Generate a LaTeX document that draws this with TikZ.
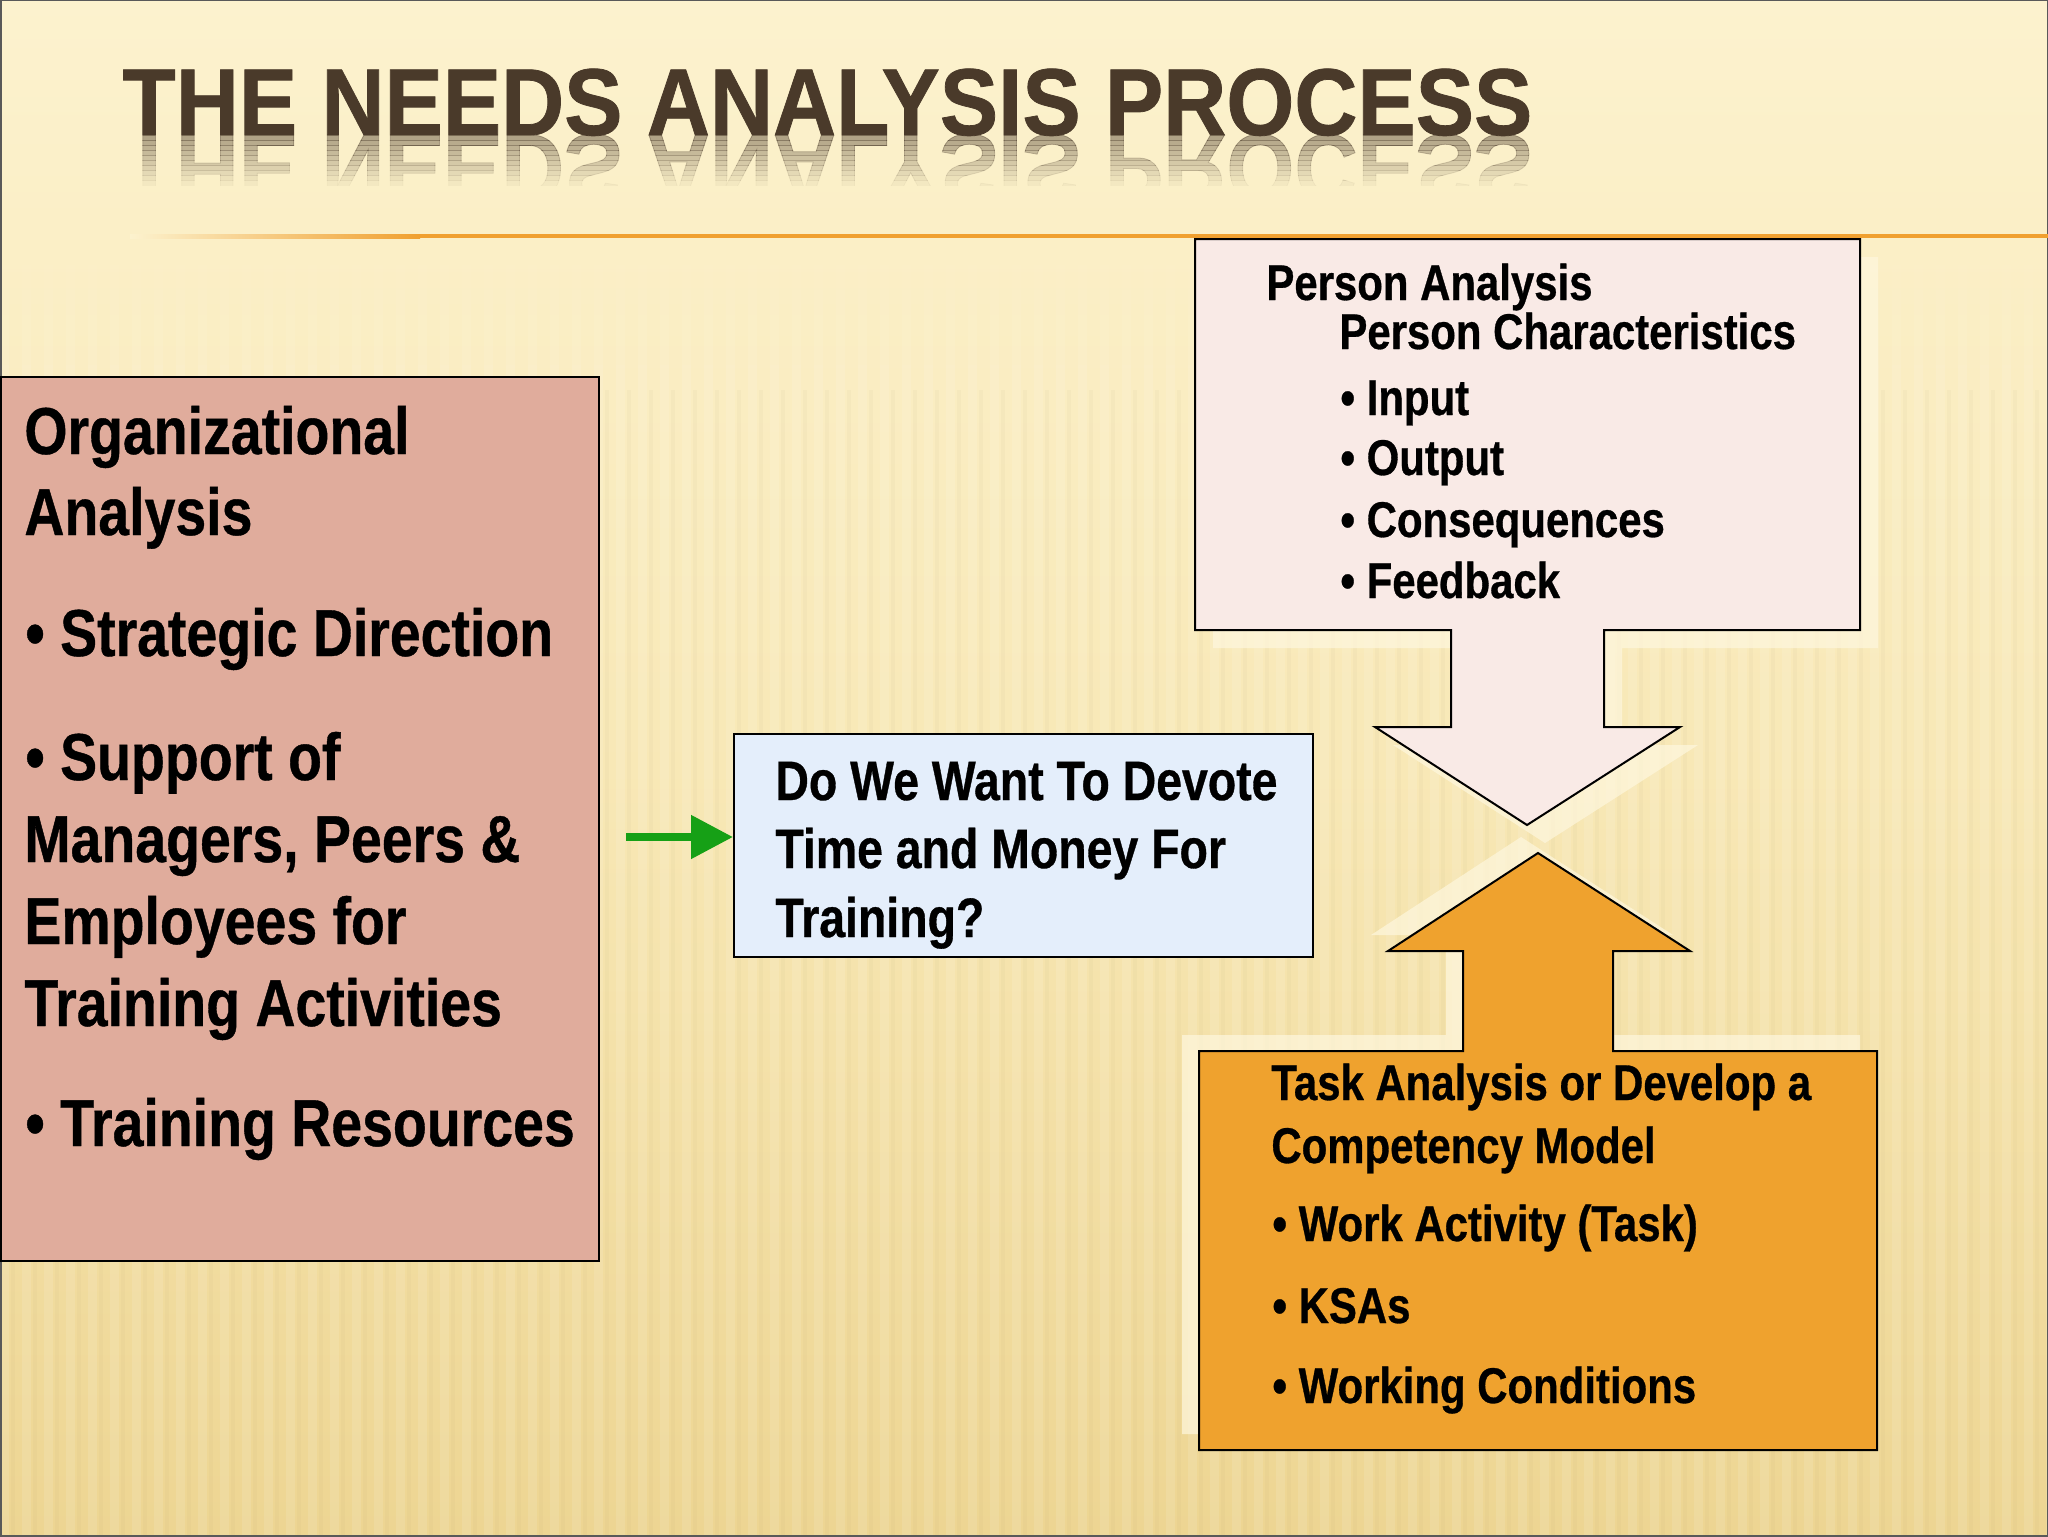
\documentclass[tikz,border=0pt]{standalone}
\usepackage{fontspec}
\setmainfont{Liberation Sans}[FakeStretch=0.835, BoldFeatures={FakeBold=0.6}]
\newfontfamily\titlefont{Liberation Sans}[FakeStretch=0.92, BoldFeatures={FakeBold=0.8}]
\usetikzlibrary{arrows.meta}
\definecolor{bgtop}{HTML}{FCF2CE}
\definecolor{bgmid}{HTML}{F8E8B6}
\definecolor{bgbot}{HTML}{EDD592}
\definecolor{titlec}{HTML}{4A3A2A}
\definecolor{orgfill}{HTML}{E0AC9C}
\definecolor{qfill}{HTML}{E4EEFB}
\definecolor{perfill}{HTML}{F9EAE6}
\definecolor{taskfill}{HTML}{EFA22E}
\definecolor{linec}{HTML}{F0A030}
\definecolor{arrowc}{HTML}{16A016}
\definecolor{glowc}{HTML}{FEF7DE}
\tikzset{
  boxline/.style={draw=black, line width=1pt},
  txt/.style={anchor=base west, inner sep=0pt, font=\bfseries},
  big/.style={txt, font=\bfseries\fontsize{33.2}{40}\selectfont},
  mid/.style={txt, font=\bfseries\fontsize{27.8}{34}\selectfont},
  sml/.style={txt, font=\bfseries\fontsize{25.1}{30}\selectfont},
  glow/.style={fill=glowc, fill opacity=0.7, draw=none},
  greenarrow/.style={draw=arrowc, line width=4pt, -{Triangle[length=21pt,width=21pt]}}
}
\begin{document}
\begin{tikzpicture}[x=0.5pt,y=-0.5pt]
\useasboundingbox (0,0) rectangle (2048,1536);
% background
\shade[top color=bgtop, bottom color=bgbot, middle color=bgmid] (0,0) rectangle (2048,1536);
\foreach \j in {0,...,5}{
  \pgfmathsetmacro{\sop}{0.1*(\j+1)/6}
  \foreach \i in {0,...,93}{
    \fill[white, fill opacity=\sop] (22*\i,240+25*\j) rectangle (22*\i+9,265+25*\j);
  }
}
\foreach \i in {0,...,93}{
  \fill[white, fill opacity=0.11] (22*\i,390) rectangle (22*\i+9,1536);
  \fill[black!40!bgbot, fill opacity=0.04] (22*\i+11,390) rectangle (22*\i+15,1536);
}
\draw[gray!70!black, line width=1.5pt] (0,0) rectangle (2048,1536);
% title
\node[txt, font=\titlefont\bfseries\fontsize{47.5}{50}\selectfont, text=titlec] (title) at (122,135) {THE NEEDS ANALYSIS PROCESS};
\foreach \i in {0,...,9}{
  \pgfmathsetmacro{\op}{0.42*(1-\i/10)}
  \begin{scope}
    \clip (0,135+5*\i) rectangle (2048,140+5*\i);
    \node[txt, yscale=-1, transform shape, font=\titlefont\bfseries\fontsize{47.5}{50}\selectfont, text=titlec, text opacity=\op] (refl\i) at (122,135) {THE NEEDS ANALYSIS PROCESS};
  \end{scope}
}
% orange rule
\shade[left color=bgtop, right color=linec] (130,234) rectangle (420,238);
\fill[linec] (420,234) rectangle (2048,238);
% organizational analysis box
\node[boxline, fill=orgfill, anchor=north west, inner sep=0pt, minimum width=299pt, minimum height=442pt] (org) at (0,376) {};
\node[big] (o1) at (24,454) {Organizational};
\node[big] (o2) at (24,535) {Analysis};
\node[big] (o3) at (25,656) {• Strategic Direction};
\node[big] (o4) at (25,780) {• Support of};
\node[big] (o5) at (24,862) {Managers, Peers \&};
\node[big] (o6) at (24,944) {Employees for};
\node[big] (o7) at (24,1026) {Training Activities};
\node[big] (o8) at (25,1146) {• Training Resources};
% question box
\node[boxline, fill=qfill, anchor=north west, inner sep=0pt, minimum width=289.5pt, minimum height=111.5pt] (q) at (733,733) {};
\node[mid] (q1) at (775,800) {Do We Want To Devote};
\node[mid] (q2) at (775,868) {Time and Money For};
\node[mid] (q3) at (775,937) {Training?};
\coordinate (gs) at (626,837);
\draw[greenarrow] (gs) -- (q.west |- gs);
% person analysis shape
\fill[glow, shift={(18,18)}] (1195,239) -- (1860,239) -- (1860,630) -- (1604,630) -- (1604,727) -- (1680,727) -- (1527,825) -- (1375,727) -- (1451,727) -- (1451,630) -- (1195,630) -- cycle;
\draw[boxline, fill=perfill] (1195,239) -- (1860,239) -- (1860,630) -- (1604,630) -- (1604,727) -- (1680,727) -- (1527,825) -- (1375,727) -- (1451,727) -- (1451,630) -- (1195,630) -- cycle;
\node[sml] (p1) at (1266,300) {Person Analysis};
\node[sml] (p2) at (1339,349) {Person Characteristics};
\node[sml] (p3) at (1340,415) {• Input};
\node[sml] (p4) at (1340,475) {• Output};
\node[sml] (p5) at (1340,537) {• Consequences};
\node[sml] (p6) at (1340,598) {• Feedback};
% task analysis shape
\fill[glow, shift={(-17,-16)}] (1199,1051) -- (1463,1051) -- (1463,951) -- (1388,951) -- (1538,853) -- (1690,951) -- (1613,951) -- (1613,1051) -- (1877,1051) -- (1877,1450) -- (1199,1450) -- cycle;
\draw[boxline, fill=taskfill] (1199,1051) -- (1463,1051) -- (1463,951) -- (1388,951) -- (1538,853) -- (1690,951) -- (1613,951) -- (1613,1051) -- (1877,1051) -- (1877,1450) -- (1199,1450) -- cycle;
\node[sml] (t1) at (1271,1100) {Task Analysis or Develop a};
\node[sml] (t2) at (1271,1163) {Competency Model};
\node[sml] (t3) at (1272,1241) {• Work Activity (Task)};
\node[sml] (t4) at (1272,1323) {• KSAs};
\node[sml] (t5) at (1272,1403) {• Working Conditions};
\end{tikzpicture}
\end{document}
